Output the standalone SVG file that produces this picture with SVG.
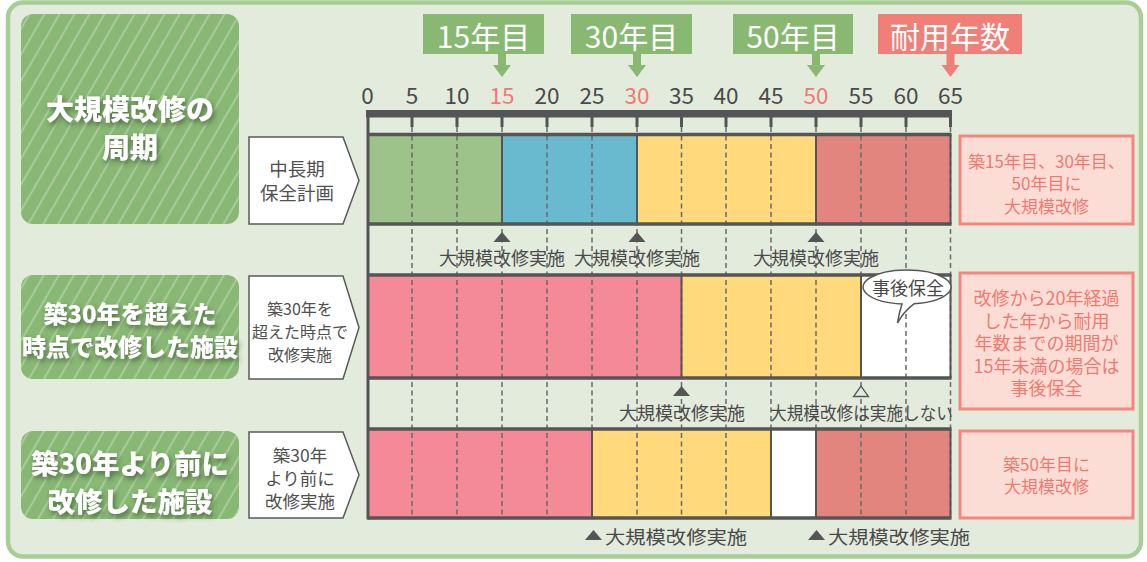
<svg xmlns="http://www.w3.org/2000/svg" width="1147" height="562" viewBox="0 0 1147 562">
<defs>
<pattern id="hatch" patternUnits="userSpaceOnUse" width="13" height="20" patternTransform="rotate(30)">
<line x1="6.5" y1="0" x2="6.5" y2="20" stroke="#ffffff" stroke-opacity="0.35" stroke-width="1.6"/>
</pattern>
<filter id="tshadow" x="-20%" y="-30%" width="140%" height="160%">
<feDropShadow dx="2" dy="3" stdDeviation="2.5" flood-color="#2f4a22" flood-opacity="0.65"/>
</filter>
<style>
.gbox{fill:#88b874;}
.hat{fill:url(#hatch);}
.btitle{font-family:"Noto Sans CJK JP","Noto Sans",sans-serif;font-weight:900;fill:#ffffff;text-anchor:middle;dominant-baseline:central;filter:url(#tshadow);}
.pent{fill:#ffffff;stroke:#5a5a5a;stroke-width:1.5;}
.pt{font-family:"Noto Sans CJK JP","Noto Sans",sans-serif;fill:#505050;text-anchor:middle;dominant-baseline:central;}
.note{fill:#fcddd6;stroke:#f3877e;stroke-width:3;}
.nt{font-family:"Noto Sans CJK JP","Noto Sans",sans-serif;fill:#f07a70;text-anchor:middle;dominant-baseline:central;font-size:17px;}
.nt2{font-size:18px;}
.num{font-family:"Noto Sans CJK JP","Noto Sans",sans-serif;fill:#4a4a4a;text-anchor:middle;dominant-baseline:central;font-size:22.5px;}
.numr{fill:#f07a72;}
.lab{font-family:"Noto Sans CJK JP","Noto Sans",sans-serif;fill:#ffffff;text-anchor:middle;dominant-baseline:central;font-size:30px;}
.dash{stroke:#6a6a6a;stroke-width:1.5;stroke-dasharray:5 3.5;}
.sep{stroke:#555555;stroke-width:2;}
.hl{stroke:#555555;stroke-width:3.5;}
.mk{fill:#555555;}
.mt{font-family:"Noto Sans CJK JP","Noto Sans",sans-serif;fill:#4a4a4a;text-anchor:middle;dominant-baseline:central;font-size:18px;}
.green{fill:#9dc38b;}
.blue{fill:#6abacf;}
.yellow{fill:#ffd97b;}
.red{fill:#e2857f;}
.pink{fill:#f48a97;}
.white{fill:#ffffff;}
</style>
</defs>
<rect x="0" y="0" width="1147" height="562" fill="#ffffff"/>
<rect x="8" y="2.5" width="1133" height="554" rx="15" fill="#e3ebdc" stroke="#a9cd96" stroke-width="4.5"/>

<g id="title-cycle">
<rect class="gbox" x="21" y="14" width="218" height="210" rx="12"/>
<rect class="hat" x="21" y="14" width="218" height="210" rx="12"/>
<text class="btitle" x="130" y="108" font-size="28">大規模改修の</text>
<text class="btitle" x="130" y="146" font-size="28">周期</text>
</g>
<g id="title-over30">
<rect class="gbox" x="21" y="275" width="218" height="104" rx="12"/>
<rect class="hat" x="21" y="275" width="218" height="104" rx="12"/>
<text class="btitle" x="130" y="312" font-size="24">築30年を超えた</text>
<text class="btitle" x="130" y="345" font-size="24">時点で改修した施設</text>
</g>
<g id="title-before30">
<rect class="gbox" x="21" y="431" width="218" height="88" rx="12"/>
<rect class="hat" x="21" y="431" width="218" height="88" rx="12"/>
<text class="btitle" x="130" y="462" font-size="27.5">築30年より前に</text>
<text class="btitle" x="130" y="500" font-size="27.5">改修した施設</text>
</g>

<g id="pent-plan">
<polygon class="pent" points="249,137 343,137 359,180.5 343,224 249,224"/>
<text class="pt" x="297" y="168" font-size="18.5">中長期</text>
<text class="pt" x="297" y="192" font-size="18.5">保全計画</text>
</g>
<g id="pent-over30">
<polygon class="pent" points="249,276 343,276 359,327.5 343,379 249,379"/>
<text class="pt" x="300" y="308" font-size="16">築30年を</text>
<text class="pt" x="300" y="331" font-size="16">超えた時点で</text>
<text class="pt" x="300" y="354" font-size="16">改修実施</text>
</g>
<g id="pent-before30">
<polygon class="pent" points="249,432 343,432 359,475 343,518 249,518"/>
<text class="pt" x="300" y="454" font-size="17.5">築30年</text>
<text class="pt" x="300" y="477" font-size="17.5">より前に</text>
<text class="pt" x="300" y="500" font-size="17.5">改修実施</text>
</g>

<g id="row1">
<rect class="green" x="367.5" y="134.5" width="134.5" height="89.5"/>
<rect class="blue" x="502" y="134.5" width="135" height="89.5"/>
<rect class="yellow" x="637" y="134.5" width="179" height="89.5"/>
<rect class="red" x="816" y="134.5" width="134.5" height="89.5"/>
</g>
<g id="row2">
<rect class="pink" x="367.5" y="275" width="314" height="103"/>
<rect class="yellow" x="681.5" y="275" width="179.5" height="103"/>
<rect class="white" x="861" y="275" width="89.5" height="103"/>
</g>
<g id="row3">
<rect class="pink" x="367.5" y="429" width="224.5" height="89"/>
<rect class="yellow" x="592" y="429" width="179" height="89"/>
<rect class="white" x="771" y="429" width="45" height="89"/>
<rect class="red" x="816" y="429" width="134.5" height="89"/>
</g>

<g id="connectors">
<g id="gridlines">
<line class="dash" x1="412" y1="127" x2="412" y2="518"/>
<line class="dash" x1="457" y1="127" x2="457" y2="518"/>
<line class="dash" x1="502" y1="127" x2="502" y2="518"/>
<line class="dash" x1="547" y1="127" x2="547" y2="518"/>
<line class="dash" x1="592" y1="127" x2="592" y2="518"/>
<line class="dash" x1="637" y1="127" x2="637" y2="518"/>
<line class="dash" x1="681.5" y1="127" x2="681.5" y2="518"/>
<line class="dash" x1="726" y1="127" x2="726" y2="518"/>
<line class="dash" x1="771" y1="127" x2="771" y2="518"/>
<line class="dash" x1="816" y1="127" x2="816" y2="518"/>
<line class="dash" x1="861" y1="127" x2="861" y2="518"/>
<line class="dash" x1="906" y1="127" x2="906" y2="518"/>
<line class="dash" x1="950.5" y1="127" x2="950.5" y2="518"/>
</g>
<g id="separators">
<line class="sep" x1="502" y1="134.5" x2="502" y2="224"/>
<line class="sep" x1="637" y1="134.5" x2="637" y2="224"/>
<line class="sep" x1="816" y1="134.5" x2="816" y2="224"/>
<line class="sep" x1="950.5" y1="134.5" x2="950.5" y2="224"/>
<line class="sep" x1="681.5" y1="275" x2="681.5" y2="378"/>
<line class="sep" x1="861" y1="275" x2="861" y2="378"/>
<line class="sep" x1="950.5" y1="275" x2="950.5" y2="378"/>
<line class="sep" x1="592" y1="429" x2="592" y2="518"/>
<line class="sep" x1="771" y1="429" x2="771" y2="518"/>
<line class="sep" x1="816" y1="429" x2="816" y2="518"/>
<line class="sep" x1="950.5" y1="429" x2="950.5" y2="518"/>
</g>
<g id="row-borders">
<line class="hl" x1="367.5" y1="134.5" x2="951.5" y2="134.5"/>
<line class="hl" x1="367.5" y1="224" x2="951.5" y2="224"/>
<line class="hl" x1="367.5" y1="275" x2="951.5" y2="275"/>
<line class="hl" x1="367.5" y1="378" x2="951.5" y2="378"/>
<line class="hl" x1="367.5" y1="429" x2="951.5" y2="429"/>
<line class="hl" x1="367.5" y1="518" x2="951.5" y2="518"/>
</g>
<g id="axis">
<rect x="366" y="110" width="586" height="7.5" fill="#555555"/>
<rect x="366.5" y="110" width="3" height="409.5" fill="#555555"/>
<g fill="#555555">
<rect x="410.5" y="116" width="3" height="11"/>
<rect x="455.5" y="116" width="3" height="11"/>
<rect x="500.5" y="116" width="3" height="11"/>
<rect x="545.5" y="116" width="3" height="11"/>
<rect x="590.5" y="116" width="3" height="11"/>
<rect x="635.5" y="116" width="3" height="11"/>
<rect x="680" y="116" width="3" height="11"/>
<rect x="724.5" y="116" width="3" height="11"/>
<rect x="769.5" y="116" width="3" height="11"/>
<rect x="814.5" y="116" width="3" height="11"/>
<rect x="859.5" y="116" width="3" height="11"/>
<rect x="904.5" y="116" width="3" height="11"/>
<rect x="949" y="116" width="3" height="11"/>
</g>
</g>
</g>

<g id="axis-numbers">
<text class="num" x="367.5" y="94">0</text>
<text class="num" x="412" y="94">5</text>
<text class="num" x="457" y="94">10</text>
<text class="num numr" x="502" y="94">15</text>
<text class="num" x="547" y="94">20</text>
<text class="num" x="592" y="94">25</text>
<text class="num numr" x="637" y="94">30</text>
<text class="num" x="681.5" y="94">35</text>
<text class="num" x="726" y="94">40</text>
<text class="num" x="771" y="94">45</text>
<text class="num numr" x="816" y="94">50</text>
<text class="num" x="861" y="94">55</text>
<text class="num" x="906" y="94">60</text>
<text class="num" x="950.5" y="94">65</text>
</g>

<g id="label-15">
<rect x="423" y="14" width="121" height="40" fill="#88b872"/>
<rect x="498" y="53" width="8" height="13" fill="#88b872"/>
<polygon points="493,65 511,65 502,77" fill="#88b872"/>
<text class="lab" x="483.5" y="34.5">15年目</text>
</g>
<g id="label-30">
<rect x="571" y="14" width="121" height="40" fill="#88b872"/>
<rect x="633" y="53" width="8" height="13" fill="#88b872"/>
<polygon points="628,65 646,65 637,77" fill="#88b872"/>
<text class="lab" x="631.5" y="34.5">30年目</text>
</g>
<g id="label-50">
<rect x="733" y="14" width="120" height="40" fill="#88b872"/>
<rect x="812" y="53" width="8" height="13" fill="#88b872"/>
<polygon points="807,65 825,65 816,77" fill="#88b872"/>
<text class="lab" x="793" y="34.5">50年目</text>
</g>
<g id="label-life">
<rect x="878" y="14" width="144" height="40" fill="#f07f78"/>
<rect x="946.5" y="53" width="8" height="13" fill="#f07f78"/>
<polygon points="941.5,65 959.5,65 950.5,77" fill="#f07f78"/>
<text class="lab" x="950" y="34.5">耐用年数</text>
</g>

<g id="markers-row1">
<polygon class="mk" points="493.5,242 510.5,242 502,232"/>
<text class="mt" x="502" y="257">大規模改修実施</text>
<polygon class="mk" points="628.5,242 645.5,242 637,232"/>
<text class="mt" x="637" y="257">大規模改修実施</text>
<polygon class="mk" points="807.5,242 824.5,242 816,232"/>
<text class="mt" x="816" y="257">大規模改修実施</text>
</g>
<g id="markers-row2">
<polygon class="mk" points="673,396 690,396 681.5,386"/>
<text class="mt" x="682" y="412">大規模改修実施</text>
<polygon points="853.5,396.5 868.5,396.5 861,386" fill="#e3ebdc" stroke="#555555" stroke-width="1.3"/>
<text class="mt" x="861.5" y="412" textLength="183" lengthAdjust="spacingAndGlyphs">大規模改修は実施しない</text>
</g>
<g id="markers-row3">
<polygon class="mk" points="585,540 602,540 593.5,530"/>
<text class="mt" x="676" y="536" font-size="20" textLength="142" lengthAdjust="spacingAndGlyphs">大規模改修実施</text>
<polygon class="mk" points="808,540 825,540 816.5,530"/>
<text class="mt" x="899" y="536" font-size="20" textLength="142" lengthAdjust="spacingAndGlyphs">大規模改修実施</text>
</g>

<g id="bubble">
<path d="M902,303.9 Q899,313 897.5,323 Q904,311 914,303.8 A44,17 0 1 0 902,303.9 Z" fill="#ffffff" stroke="#555555" stroke-width="1.5"/>
<text class="mt" x="908" y="287">事後保全</text>
</g>

<g id="note1">
<rect class="note" x="960" y="136" width="173" height="88"/>
<text class="nt" x="1046.5" y="160">築15年目、30年目、</text>
<text class="nt" x="1046.5" y="182.5">50年目に</text>
<text class="nt" x="1046.5" y="205">大規模改修</text>
</g>
<g id="note2">
<rect class="note" x="960" y="273" width="173" height="136"/>
<text class="nt nt2" x="1046.5" y="297">改修から20年経過</text>
<text class="nt nt2" x="1046.5" y="319.5">した年から耐用</text>
<text class="nt nt2" x="1046.5" y="342">年数までの期間が</text>
<text class="nt nt2" x="1046.5" y="364.5">15年未満の場合は</text>
<text class="nt nt2" x="1046.5" y="387">事後保全</text>
</g>
<g id="note3">
<rect class="note" x="960" y="431" width="173" height="87"/>
<text class="nt" x="1046.5" y="463">築50年目に</text>
<text class="nt" x="1046.5" y="485.5">大規模改修</text>
</g>
</svg>
